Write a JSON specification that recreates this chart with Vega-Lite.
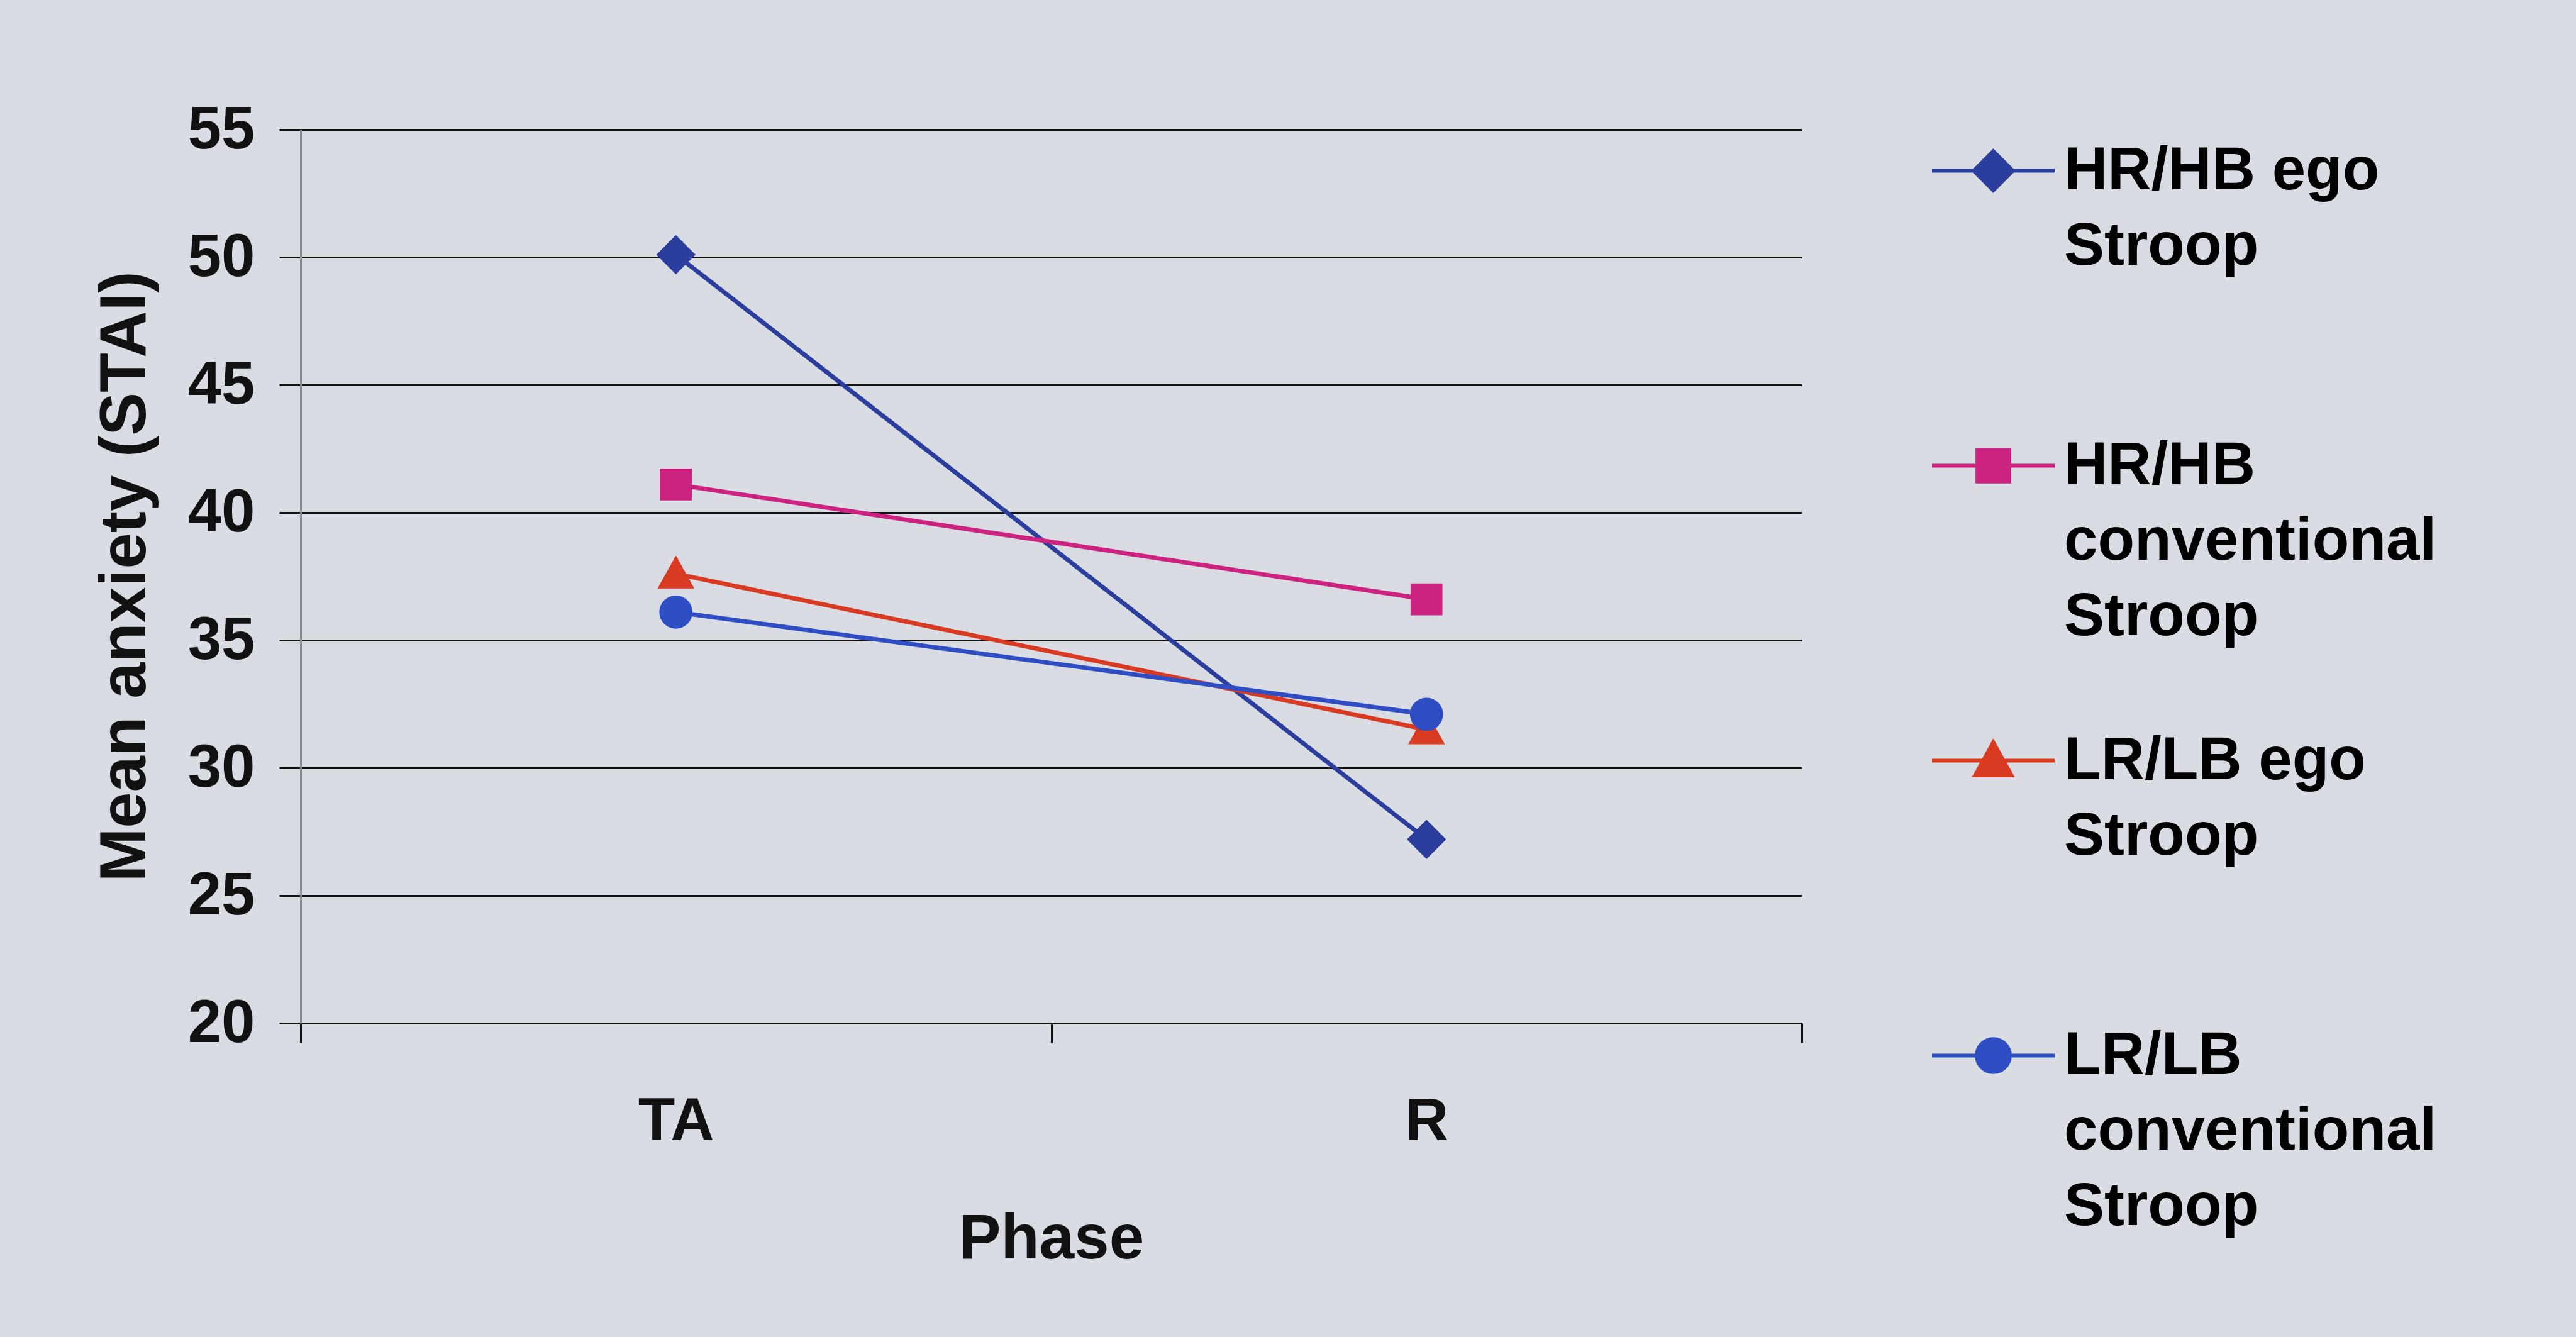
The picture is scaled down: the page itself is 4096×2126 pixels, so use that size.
{
  "$schema": "https://vega.github.io/schema/vega-lite/v6.json",
  "width": 2387,
  "height": 1421,
  "autosize": {"type": "none"},
  "padding": {"left": 478, "top": 206, "right": 1231, "bottom": 499},
  "background": "#d9dce3",
  "config": {
    "view": {"stroke": null},
    "font": "Liberation Sans",
    "style": {"guide-label": {"lineHeight": 120}}
  },
  "data": {
    "values": [
      {"series": "HR/HB ego Stroop", "phase": "TA", "anxiety": 50.1},
      {"series": "HR/HB ego Stroop", "phase": "R", "anxiety": 27.2},
      {"series": "HR/HB conventional Stroop", "phase": "TA", "anxiety": 41.1},
      {"series": "HR/HB conventional Stroop", "phase": "R", "anxiety": 36.6},
      {"series": "LR/LB ego Stroop", "phase": "TA", "anxiety": 37.6},
      {"series": "LR/LB ego Stroop", "phase": "R", "anxiety": 31.5},
      {"series": "LR/LB conventional Stroop", "phase": "TA", "anxiety": 36.1},
      {"series": "LR/LB conventional Stroop", "phase": "R", "anxiety": 32.1}
    ]
  },
  "encoding": {
    "x": {
      "field": "phase", "type": "nominal", "sort": ["TA", "R"],
      "scale": {"type": "band", "paddingInner": 0, "paddingOuter": 0},
      "axis": {
        "title": "Phase", "labelAngle": 0, "tickBand": "extent", "grid": false,
        "domain": true, "domainColor": "#111111", "domainWidth": 3,
        "ticks": true, "tickColor": "#111111", "tickWidth": 3, "tickSize": 31,
        "labelFont": "Liberation Sans", "labelFontSize": 96, "labelFontWeight": "bold", "labelColor": "#111111", "labelPadding": 78,
        "titleFont": "Liberation Sans", "titleFontSize": 100, "titleFontWeight": "bold", "titleColor": "#111111", "titlePadding": 94
      }
    },
    "y": {
      "field": "anxiety", "type": "quantitative",
      "scale": {"domain": [20, 55], "nice": false, "zero": false},
      "axis": {
        "title": "Mean anxiety (STAI)", "values": [20, 25, 30, 35, 40, 45, 50, 55],
        "grid": true, "gridColor": "#111111", "gridWidth": 3, "gridOpacity": 1,
        "domain": true, "domainColor": "#8a8d93", "domainWidth": 3,
        "ticks": true, "tickColor": "#111111", "tickWidth": 3, "tickSize": 34,
        "labelFont": "Liberation Sans", "labelFontSize": 96, "labelFontWeight": "bold", "labelColor": "#111111", "labelPadding": 39,
        "titleFont": "Liberation Sans", "titleFontSize": 103, "titleFontWeight": "bold", "titleColor": "#111111", "titlePadding": 46
      }
    }
  },
  "layer": [
    {
      "mark": {"type": "line", "strokeWidth": 7},
      "encoding": {
        "color": {
          "field": "series", "type": "nominal",
          "scale": {
            "domain": ["HR/HB ego Stroop", "HR/HB conventional Stroop", "LR/LB ego Stroop", "LR/LB conventional Stroop"],
            "range": ["#2b3e9e", "#cc2380", "#d83a22", "#2f4ec4"]
          },
          "legend": {
            "title": null, "orient": "none", "legendX": 2591, "legendY": -35, "padding": 0,
            "labelFontSize": 96, "labelFontWeight": "bold", "labelOffset": 12,
            "labelLimit": 3000, "rowPadding": 80,
            "symbolSize": 38025, "symbolStrokeWidth": 6,
            "labelExpr": "datum.value == 'HR/HB ego Stroop' ? ['HR/HB ego', 'Stroop', ' '] : datum.value == 'HR/HB conventional Stroop' ? ['HR/HB', 'conventional', 'Stroop'] : datum.value == 'LR/LB ego Stroop' ? ['LR/LB ego', 'Stroop', ' '] : ['LR/LB', 'conventional', 'Stroop']"
          }
        }
      }
    },
    {
      "mark": {"type": "point", "filled": true, "size": 38025, "opacity": 1},
      "encoding": {
        "fill": {
          "field": "series", "type": "nominal",
          "scale": {
            "domain": ["HR/HB ego Stroop", "HR/HB conventional Stroop", "LR/LB ego Stroop", "LR/LB conventional Stroop"],
            "range": ["#2b3e9e", "#cc2380", "#d83a22", "#2f4ec4"]
          },
          "legend": {
            "title": null, "orient": "none", "legendX": 2591, "legendY": -35, "padding": 0,
            "labelFontSize": 96, "labelFontWeight": "bold", "labelOffset": 12,
            "labelLimit": 3000, "rowPadding": 80,
            "symbolSize": 38025, "symbolStrokeWidth": 6,
            "labelExpr": "datum.value == 'HR/HB ego Stroop' ? ['HR/HB ego', 'Stroop', ' '] : datum.value == 'HR/HB conventional Stroop' ? ['HR/HB', 'conventional', 'Stroop'] : datum.value == 'LR/LB ego Stroop' ? ['LR/LB ego', 'Stroop', ' '] : ['LR/LB', 'conventional', 'Stroop']"
          }
        },
        "shape": {
          "field": "series", "type": "nominal",
          "scale": {
            "domain": ["HR/HB ego Stroop", "HR/HB conventional Stroop", "LR/LB ego Stroop", "LR/LB conventional Stroop"],
            "range": [
              "M-1,0H1M0,-0.32L0.32,0L0,0.32L-0.32,0Z",
              "M-1,0H1M-0.26,-0.26H0.26V0.26H-0.26Z",
              "M-1,0H1M0,-0.3L0.3,0.24L-0.3,0.24Z",
              "M-1,0H1M0.27,0A0.27,0.27,0,1,1,-0.27,0A0.27,0.27,0,1,1,0.27,0Z"
            ]
          },
          "legend": {
            "title": null, "orient": "none", "legendX": 2591, "legendY": -35, "padding": 0,
            "labelFontSize": 96, "labelFontWeight": "bold", "labelOffset": 12,
            "labelLimit": 3000, "rowPadding": 80,
            "symbolSize": 38025, "symbolStrokeWidth": 6,
            "labelExpr": "datum.value == 'HR/HB ego Stroop' ? ['HR/HB ego', 'Stroop', ' '] : datum.value == 'HR/HB conventional Stroop' ? ['HR/HB', 'conventional', 'Stroop'] : datum.value == 'LR/LB ego Stroop' ? ['LR/LB ego', 'Stroop', ' '] : ['LR/LB', 'conventional', 'Stroop']"
          }
        }
      }
    }
  ]
}
